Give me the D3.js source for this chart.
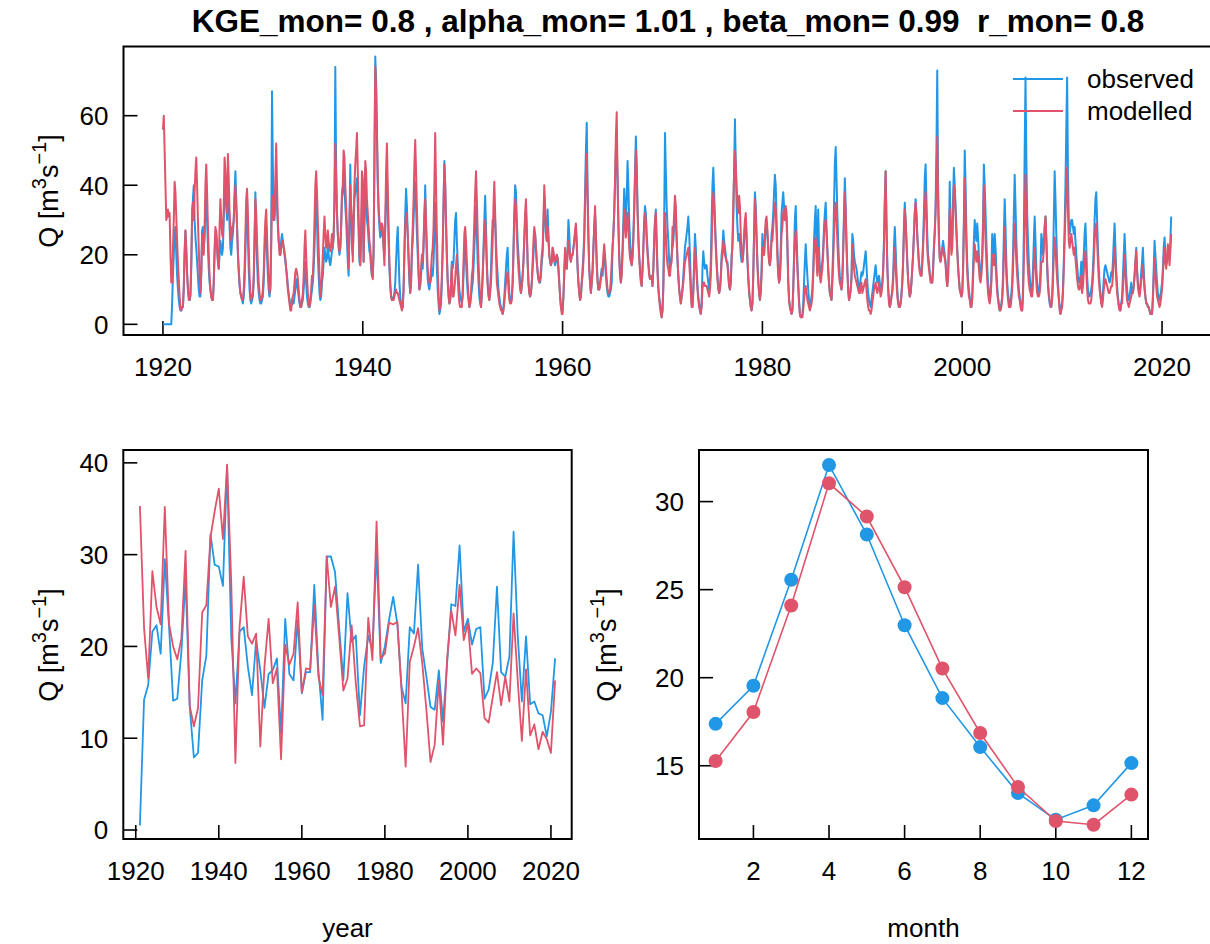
<!DOCTYPE html>
<html>
<head>
<meta charset="utf-8">
<script src="https://cdn.jsdelivr.net/npm/d3@7"></script>
<style>
  body { margin: 0; background: white; }
  text { font-family: "Liberation Sans", Arial, Helvetica, sans-serif; fill: black; }
</style>
</head>
<body>
<div id="container"></div>
<script>
let w = 1210;
let h = 944;

let title = "KGE_mon= 0.8 , alpha_mon= 1.01 , beta_mon= 0.99  r_mon= 0.8";
let seriesNames = ["observed", "modelled"];
let colObs = "#2297E6";
let colMod = "#DF536B";

// monthly discharge, one row per calendar year (Jan..Dec), first row = 1920
let firstYear = 1920;
let obsMonthly = [
  [0,0,0,0,0,0,0,0,0,0,0,6],
  [14,20,26,28,20,14,10,7,5,4,4,5],
  [5,10,20,27,22,15,10,8,7,8,16,30],
  [36,40,30,25,22,18,14,10,8,8,14,27],
  [28,22,25,33,37,30,22,16,12,10,8,7],
  [7,12,20,25,27,22,18,16,20,24,22,20],
  [22,30,38,40,34,30,42,36,28,22,20,24],
  [26,30,38,44,36,28,20,15,11,9,8,7],
  [6,8,12,20,30,36,26,16,10,7,6,7],
  [8,12,22,38,28,18,12,9,7,6,6,7],
  [8,12,20,26,28,20,14,10,8,10,24,67],
  [45,30,30,36,40,34,28,24,22,20,24,26],
  [24,22,20,18,16,14,11,9,7,5,5,7],
  [6,6,8,10,13,12,10,8,6,5,5,6],
  [7,10,14,18,12,8,6,5,5,6,8,10],
  [12,16,22,30,38,30,20,14,9,7,8,12],
  [14,18,22,20,18,19,23,20,18,17,19,21],
  [22,25,35,74,45,32,26,22,20,22,28,36],
  [38,43,40,34,30,24,18,14,30,46,30,22],
  [20,28,36,38,40,42,34,26,18,17,24,36],
  [38,18,28,45,36,30,28,24,21,20,16,14],
  [14,20,45,77,70,55,40,32,28,25,26,28],
  [26,22,20,28,36,43,34,24,16,11,8,7],
  [7,8,9,12,18,24,28,20,12,8,6,5],
  [5,10,22,32,39,34,26,18,12,9,12,20],
  [24,30,36,41,34,26,20,14,10,11,14,18],
  [16,22,30,40,28,18,13,11,10,12,13,16],
  [14,18,26,35,26,16,10,6,3,4,6,12],
  [22,35,47,40,30,20,13,9,6,7,12,18],
  [16,18,24,30,32,24,18,14,10,8,7,6],
  [8,14,22,24,18,13,9,7,5,6,8,10],
  [12,16,22,28,34,26,18,12,8,6,5,8],
  [14,22,30,37,28,18,12,9,7,10,16,24],
  [30,28,32,30,24,18,14,10,8,6,5,4],
  [3,5,8,12,16,20,22,14,9,7,7,8],
  [12,22,32,40,38,30,24,20,16,12,9,11],
  [14,18,24,30,33,26,18,12,9,8,9,12],
  [16,20,24,26,22,18,15,13,12,12,14,18],
  [20,28,37,32,26,24,33,26,20,18,17,18],
  [22,20,18,17,18,20,19,16,12,8,5,4],
  [4,8,14,20,18,16,22,30,26,20,18,20],
  [20,22,24,26,28,22,16,12,9,7,8,12],
  [16,20,26,38,50,58,40,26,16,12,9,12],
  [16,22,28,32,26,18,13,10,10,12,14,16],
  [14,18,20,18,14,11,9,8,8,9,10,12],
  [22,26,32,40,50,54,42,30,20,15,12,15],
  [22,30,39,34,28,36,47,40,30,24,20,17],
  [20,26,34,44,54,46,34,26,20,16,13,11],
  [16,22,30,34,32,26,22,18,15,13,13,14],
  [11,16,24,30,33,24,16,11,8,6,4,2],
  [4,12,30,55,44,34,28,24,18,16,18,20],
  [22,24,28,32,30,24,18,14,10,8,6,8],
  [10,14,18,22,24,26,28,31,26,20,12,6],
  [5,10,18,26,22,16,11,8,6,4,3,6],
  [16,21,18,16,17,17,14,12,10,12,18,30],
  [40,45,38,30,24,18,14,11,9,10,14,20],
  [22,27,24,22,20,18,18,15,11,10,12,20],
  [22,30,44,59,46,34,28,24,26,24,20,18],
  [18,20,24,28,30,24,18,13,9,7,5,4],
  [6,14,26,38,34,26,18,13,9,7,10,16],
  [26,22,20,24,28,29,26,22,18,17,20,26],
  [28,32,38,43,40,30,22,16,12,14,22,32],
  [35,38,34,30,32,30,22,12,7,5,4,3],
  [4,10,20,30,34,26,18,12,7,3,2,2],
  [3,6,12,18,23,18,14,10,7,5,6,8],
  [10,16,24,30,34,24,15,33,22,16,13,16],
  [18,22,28,32,35,28,22,16,12,9,8,7],
  [14,22,34,46,51,42,32,24,18,14,12,10],
  [14,22,32,42,34,24,16,10,7,8,10,14],
  [26,24,20,18,17,16,14,12,10,11,13,15],
  [14,15,17,19,21,17,12,9,7,6,5,7],
  [9,11,13,15,17,14,12,13,14,12,10,11],
  [12,16,24,36,44,30,18,11,7,5,6,8],
  [10,14,22,28,22,15,10,7,5,5,6,9],
  [12,18,28,35,30,24,18,13,10,8,9,12],
  [16,20,26,32,36,32,26,22,18,16,15,14],
  [18,24,32,42,46,36,26,20,18,15,13,12],
  [12,16,22,26,34,50,73,40,26,19,18,20],
  [22,24,22,20,18,14,11,14,24,41,30,22],
  [24,36,45,40,34,28,22,17,13,10,9,8],
  [9,16,30,50,40,26,18,13,10,8,6,5],
  [8,16,24,30,26,24,29,25,20,16,14,16],
  [20,30,46,40,32,24,17,12,9,7,9,14],
  [26,22,20,26,22,16,11,8,6,4,5,6],
  [8,14,26,36,28,18,12,9,7,5,6,9],
  [12,20,32,43,34,24,18,14,10,8,6,5],
  [4,10,26,50,71,48,32,24,18,14,11,9],
  [10,16,24,31,24,16,12,10,9,10,16,26],
  [24,20,22,28,31,24,16,11,8,6,5,5],
  [8,16,30,44,36,26,18,12,8,5,3,5],
  [6,10,18,28,40,56,71,44,30,26,28,30],
  [30,28,26,28,24,20,17,14,12,12,14,18],
  [14,16,20,26,29,22,14,10,8,8,9,10],
  [12,16,22,30,36,38,30,22,16,12,9,6],
  [6,9,13,16,17,16,15,14,13,12,13,15],
  [14,18,24,29,22,15,11,8,6,5,4,6],
  [8,14,20,26,20,14,10,8,7,8,10,12],
  [9,9,11,14,18,22,16,12,10,9,11,15],
  [18,22,16,11,8,6,6,5,5,4,3,3],
  [3,8,16,24,20,16,12,9,8,7,8,10],
  [12,16,22,25,20,17,18,20,22,19,24,31]
];
let modMonthly = [
  [56,60,50,40,30,31,33,31,32,20,12,12],
  [22,30,41,38,31,24,18,13,8,5,4,5],
  [5,11,21,27,21,14,10,7,7,9,18,33],
  [35,30,38,44,48,40,30,22,14,9,15,25],
  [26,20,28,40,46,38,28,20,14,10,8,7],
  [7,12,22,28,26,22,18,16,28,36,30,26],
  [25,34,48,44,36,32,49,42,32,28,24,28],
  [28,30,36,40,34,28,21,16,12,9,8,7],
  [7,10,16,26,36,39,32,22,14,9,7,8],
  [9,14,26,36,32,24,17,12,9,7,7,8],
  [10,15,24,30,33,26,18,13,9,11,22,37],
  [36,30,32,42,52,40,30,24,20,20,22,24],
  [24,22,21,19,16,13,10,8,6,4,4,7],
  [8,9,12,15,16,15,13,10,7,5,5,7],
  [9,14,22,27,20,14,9,6,5,7,10,14],
  [14,20,30,40,44,38,30,22,14,8,10,14],
  [20,26,31,26,22,23,27,24,22,21,23,26],
  [22,26,36,52,42,32,26,23,21,22,28,38],
  [40,50,48,40,34,28,22,16,28,40,34,30],
  [18,30,40,46,50,55,44,32,20,17,28,44],
  [42,18,34,47,44,36,32,28,24,22,18,14],
  [13,22,48,74,68,56,42,34,30,28,27,29],
  [28,22,17,30,44,52,40,28,18,12,8,7],
  [7,7,8,9,10,9,9,8,7,6,5,4],
  [5,10,20,28,32,30,26,20,14,9,12,22],
  [28,36,46,53,44,34,24,16,10,12,16,20],
  [18,24,32,36,30,22,16,13,12,12,16,20],
  [22,28,40,55,40,26,16,9,4,5,8,14],
  [22,34,46,40,28,19,12,8,6,7,12,17],
  [8,8,10,13,17,20,14,9,6,5,5,5],
  [10,18,26,28,24,18,12,8,5,6,9,14],
  [16,22,30,38,44,36,26,18,12,8,5,9],
  [14,20,26,30,24,16,11,8,7,9,12,18],
  [24,34,41,32,20,12,10,8,6,5,4,4],
  [3,4,6,9,12,14,15,10,7,6,6,7],
  [12,20,30,36,34,26,20,16,13,10,9,11],
  [14,18,25,32,36,28,18,12,9,8,9,12],
  [18,24,28,26,22,18,15,13,12,13,16,20],
  [22,30,40,34,28,24,28,24,20,18,17,18],
  [22,21,19,18,19,20,19,16,12,8,5,3],
  [3,8,16,22,18,16,20,24,22,19,18,20],
  [20,22,24,27,29,24,17,12,9,7,8,12],
  [14,18,24,34,44,49,36,24,16,12,9,12],
  [15,22,28,34,26,17,12,10,10,11,13,15],
  [16,20,23,20,16,13,10,9,9,10,13,18],
  [22,26,32,42,54,61,42,28,19,14,12,14],
  [20,26,33,30,25,28,32,28,22,19,18,17],
  [19,24,32,42,50,44,32,24,19,15,12,11],
  [16,22,29,32,30,24,20,17,14,13,13,14],
  [11,16,24,30,32,22,15,10,7,5,3,2],
  [4,10,22,32,26,20,17,16,14,14,17,18],
  [28,26,32,37,34,26,19,14,10,8,6,8],
  [10,12,15,18,19,20,21,22,18,14,9,5],
  [5,9,16,22,19,14,10,7,5,4,3,5],
  [10,12,12,11,11,11,10,9,8,10,14,22],
  [34,38,34,28,22,17,13,10,9,10,13,18],
  [20,24,22,20,19,18,17,14,11,10,12,18],
  [24,34,44,50,46,40,34,32,37,34,26,20],
  [18,21,26,30,32,26,19,14,10,7,5,4],
  [6,14,26,36,32,24,17,12,9,7,9,14],
  [22,20,20,26,30,31,27,22,18,17,19,24],
  [24,28,32,35,33,26,19,14,12,13,18,26],
  [28,32,33,30,34,32,24,13,7,5,4,3],
  [4,10,18,24,27,22,16,11,6,3,2,2],
  [2,4,7,10,11,9,7,6,5,4,5,6],
  [8,14,20,24,25,19,14,22,18,14,12,14],
  [16,20,26,29,30,26,21,16,12,9,8,7],
  [12,18,26,32,35,30,24,18,14,12,11,10],
  [12,20,30,38,32,22,15,10,7,8,10,13],
  [23,20,16,14,13,12,11,10,9,9,11,12],
  [9,10,11,12,13,10,7,5,4,4,3,4],
  [6,8,10,11,12,10,9,10,12,10,8,9],
  [11,15,22,34,44,28,16,10,6,5,6,8],
  [9,12,18,22,17,12,8,6,5,5,6,8],
  [12,18,27,33,30,24,18,13,10,8,9,12],
  [16,20,26,32,35,31,25,21,17,15,14,14],
  [17,22,28,34,38,30,22,18,16,14,12,12],
  [12,16,22,27,32,42,54,36,24,19,18,20],
  [22,22,20,19,17,13,11,13,22,33,26,20],
  [22,32,40,38,32,26,21,16,13,10,9,8],
  [9,15,28,42,34,22,15,11,8,7,5,5],
  [7,13,19,23,20,18,21,19,16,13,12,14],
  [18,26,40,32,24,18,13,9,7,6,8,12],
  [20,18,17,20,17,13,9,7,5,4,4,5],
  [7,11,20,28,21,14,10,7,5,5,5,7],
  [10,16,24,29,24,18,14,11,8,7,5,4],
  [4,8,18,32,43,30,20,15,12,10,9,8],
  [8,12,18,22,17,12,9,8,8,9,12,18],
  [18,18,22,28,31,25,18,12,9,7,6,5],
  [7,12,20,25,22,17,13,10,7,4,3,4],
  [5,9,16,24,32,40,45,32,24,22,24,26],
  [24,22,20,22,19,16,13,11,10,10,12,14],
  [9,11,15,19,21,15,10,7,6,6,6,7],
  [10,13,18,24,28,29,24,18,13,10,8,6],
  [5,7,10,12,13,12,11,10,9,9,10,11],
  [11,14,19,22,18,13,9,7,5,4,4,6],
  [6,10,15,20,15,10,7,6,5,6,7,8],
  [9,9,11,14,18,21,15,11,9,8,10,13],
  [14,17,13,10,8,6,6,5,5,4,3,3],
  [3,7,13,19,15,11,8,7,6,5,6,8],
  [10,14,19,22,18,16,20,23,20,17,21,26]
];

// annual means
let annualYears = d3.range(1921, 2022);
let obsAnnual = [0.5,14.2,15.8,21.6,22.3,19.2,29.5,22.3,14.1,14.3,
  19.5,27.4,13.4,7.9,8.4,16.3,19.0,32.2,28.9,28.7,
  26.6,39.6,21.0,13.8,21.6,22.1,17.8,14.7,20.7,17.4,
  13.3,17.0,17.4,18.7,10.5,23.0,17.0,16.3,22.9,14.9,
  17.2,17.2,26.7,17.4,12.0,29.8,29.8,28.1,22.0,16.3,
  25.8,20.5,21.2,12.5,17.8,21.2,19.6,30.5,18.2,20.0,
  22.9,25.4,22.5,15.6,13.8,22.1,21.4,28.9,19.8,16.7,
  13.4,13.1,17.4,11.8,18.2,24.6,24.4,31.0,21.6,23.0,
  20.2,21.9,22.1,14.3,15.3,18.2,26.5,17.2,16.7,18.9,
  32.5,21.2,14.0,21.1,13.7,14.0,12.7,12.5,10.2,12.9,
  18.7];
let modAnnual = [35.3,22.0,16.5,28.2,24.3,22.4,35.2,22.5,20.0,18.6,
  20.9,30.4,13.5,11.3,13.3,23.7,24.5,31.9,34.7,37.2,
  31.7,39.8,27.0,7.3,22.1,27.6,21.1,20.3,21.4,9.1,
  17.8,23.0,16.0,17.6,7.7,20.2,18.0,19.2,24.8,15.0,
  17.6,17.5,24.5,16.7,14.7,29.8,24.3,26.5,21.0,15.2,
  16.5,22.3,16.0,11.3,11.4,23.1,18.5,33.6,18.7,19.2,
  22.6,22.4,22.7,15.3,6.9,18.3,20.0,22.0,18.2,13.1,
  7.4,9.3,16.3,9.3,18.7,23.9,21.2,26.7,20.7,22.5,
  17.0,17.6,17.1,12.2,11.7,14.5,17.2,13.6,16.7,14.0,
  23.6,16.3,9.7,17.5,10.3,11.5,8.8,10.7,9.9,8.4,
  16.3];

// mean seasonal cycle
let months = [1,2,3,4,5,6,7,8,9,10,11,12];
let obsSeason = [17.38,19.54,25.56,32.08,28.13,22.98,18.84,16.06,13.45,11.94,12.75,15.15];
let modSeason = [15.27,18.05,24.1,31.04,29.15,25.14,20.52,16.86,13.79,11.86,11.65,13.36];

let fontSize = 26;

let svg = d3.select("#container")
  .append("svg")
  .attr("width", w)
  .attr("height", h)
  .style("background-color", "white");

function yTitle(x, y) {
  let t = svg.append("text")
    .attr("transform", "translate(" + x + "," + y + ") rotate(-90)")
    .attr("text-anchor", "middle")
    .style("font-size", "27px");
  t.append("tspan").text("Q [m");
  t.append("tspan").attr("dy", -12).style("font-size", "20px").text("3");
  t.append("tspan").attr("dy", 12).text("s");
  t.append("tspan").attr("dy", -12).style("font-size", "20px").text("\u22121");
  t.append("tspan").attr("dy", 12).text("]");
}

function drawFrame(box, x, y, xTicks, yTicks, name) {
  let g = svg.append("g").attr("class", name);

  g.append("clipPath").attr("id", "clip-" + name)
    .append("rect")
    .attr("x", box.x0).attr("y", box.y0)
    .attr("width", box.x1 - box.x0).attr("height", box.y1 - box.y0);

  g.selectAll(".ytick").data(yTicks).enter()
    .append("line")
    .attr("x1", box.x0).attr("x2", box.x0 + 14)
    .attr("y1", d => y(d)).attr("y2", d => y(d))
    .attr("stroke", "black").attr("stroke-width", 1.6);

  g.selectAll(".ylab").data(yTicks).enter()
    .append("text")
    .attr("x", box.x0 - 15)
    .attr("y", d => y(d))
    .attr("dy", "0.36em")
    .attr("text-anchor", "end")
    .style("font-size", fontSize + "px")
    .text(d => d);

  g.selectAll(".xtick").data(xTicks).enter()
    .append("line")
    .attr("x1", d => x(d)).attr("x2", d => x(d))
    .attr("y1", box.y1).attr("y2", box.y1 - 14)
    .attr("stroke", "black").attr("stroke-width", 1.6);

  g.selectAll(".xlab").data(xTicks).enter()
    .append("text")
    .attr("x", d => x(d))
    .attr("y", box.y1 + 41)
    .attr("text-anchor", "middle")
    .style("font-size", fontSize + "px")
    .text(d => d);

  return g;
}

function drawBox(box) {
  svg.append("rect")
    .attr("x", box.x0).attr("y", box.y0)
    .attr("width", box.x1 - box.x0).attr("height", box.y1 - box.y0)
    .attr("fill", "none")
    .attr("stroke", "black")
    .attr("stroke-width", 2);
}

// ---- title (keeps the double space before r_mon)
svg.append("text")
  .attr("x", 668)
  .attr("y", 32)
  .attr("text-anchor", "middle")
  .style("font-size", "31.5px")
  .style("font-weight", "bold")
  .style("white-space", "pre")
  .text(title);

// ---- top panel: monthly time series
let topBox = {x0: 123.5, x1: 1211, y0: 46.5, y1: 335};
let xTop = d3.scaleLinear().domain([1916.05, 2024.9]).range([topBox.x0, topBox.x1]);
let yTop = d3.scaleLinear().domain([-3.07, 79.9]).range([topBox.y1, topBox.y0]);

let obsPts = obsMonthly.flatMap((row, i) => row.map((v, m) => ({t: firstYear + i + m / 12, q: v})));
let modPts = modMonthly.flatMap((row, i) => row.map((v, m) => ({t: firstYear + i + m / 12, q: v})));

let topG = drawFrame(topBox, xTop, yTop, [1920, 1940, 1960, 1980, 2000, 2020], [0, 20, 40, 60], "top");
let lineTop = d3.line().x(d => xTop(d.t)).y(d => yTop(d.q));

topG.append("path").datum(obsPts)
  .attr("d", lineTop).attr("fill", "none")
  .attr("stroke", colObs).attr("stroke-width", 2)
  .attr("stroke-linejoin", "round")
  .attr("clip-path", "url(#clip-top)");
topG.append("path").datum(modPts)
  .attr("d", lineTop).attr("fill", "none")
  .attr("stroke", colMod).attr("stroke-width", 2)
  .attr("stroke-linejoin", "round")
  .attr("clip-path", "url(#clip-top)");
drawBox(topBox);
yTitle(58, 191);

// legend
let legend = svg.append("g").attr("class", "legend");
[colObs, colMod].forEach((c, i) => {
  legend.append("line")
    .attr("x1", 1013).attr("x2", 1063)
    .attr("y1", 79 + i * 32).attr("y2", 79 + i * 32)
    .attr("stroke", c).attr("stroke-width", 2);
  legend.append("text")
    .attr("x", 1087).attr("y", 79 + i * 32)
    .attr("dy", "0.36em")
    .style("font-size", fontSize + "px")
    .text(seriesNames[i]);
});

// ---- bottom left: annual means
let blBox = {x0: 123.3, x1: 571.7, y0: 450, y1: 839};
let xBl = d3.scaleLinear().domain([1917, 2025]).range([blBox.x0, blBox.x1]);
let yBl = d3.scaleLinear().domain([-0.98, 41.4]).range([blBox.y1, blBox.y0]);
let blG = drawFrame(blBox, xBl, yBl, [1920, 1940, 1960, 1980, 2000, 2020], [0, 10, 20, 30, 40], "bl");
let lineBl = d3.line().x((d, i) => xBl(annualYears[i])).y(d => yBl(d));
blG.append("path").datum(obsAnnual)
  .attr("d", lineBl).attr("fill", "none")
  .attr("stroke", colObs).attr("stroke-width", 1.8)
  .attr("stroke-linejoin", "round");
blG.append("path").datum(modAnnual)
  .attr("d", lineBl).attr("fill", "none")
  .attr("stroke", colMod).attr("stroke-width", 1.8)
  .attr("stroke-linejoin", "round");
drawBox(blBox);
yTitle(58, 645);
svg.append("text")
  .attr("x", (blBox.x0 + blBox.x1) / 2).attr("y", 937)
  .attr("text-anchor", "middle")
  .style("font-size", fontSize + "px")
  .text("year");

// ---- bottom right: seasonal cycle
let brBox = {x0: 699, x1: 1148, y0: 450, y1: 839};
let xBr = d3.scaleLinear().domain([0.56, 12.44]).range([brBox.x0, brBox.x1]);
let yBr = d3.scaleLinear().domain([10.84, 32.93]).range([brBox.y1, brBox.y0]);
let brG = drawFrame(brBox, xBr, yBr, [2, 4, 6, 8, 10, 12], [15, 20, 25, 30], "br");
let lineBr = d3.line().x((d, i) => xBr(months[i])).y(d => yBr(d));

[[obsSeason, colObs], [modSeason, colMod]].forEach(s => {
  brG.append("path").datum(s[0])
    .attr("d", lineBr).attr("fill", "none")
    .attr("stroke", s[1]).attr("stroke-width", 1.6);
  brG.selectAll(".pt-" + s[1].slice(1)).data(s[0]).enter()
    .append("circle")
    .attr("cx", (d, i) => xBr(months[i]))
    .attr("cy", d => yBr(d))
    .attr("r", 7)
    .attr("fill", s[1]);
});
drawBox(brBox);
yTitle(616, 645);
svg.append("text")
  .attr("x", (brBox.x0 + brBox.x1) / 2).attr("y", 937)
  .attr("text-anchor", "middle")
  .style("font-size", fontSize + "px")
  .text("month");
</script>
</body>
</html>
